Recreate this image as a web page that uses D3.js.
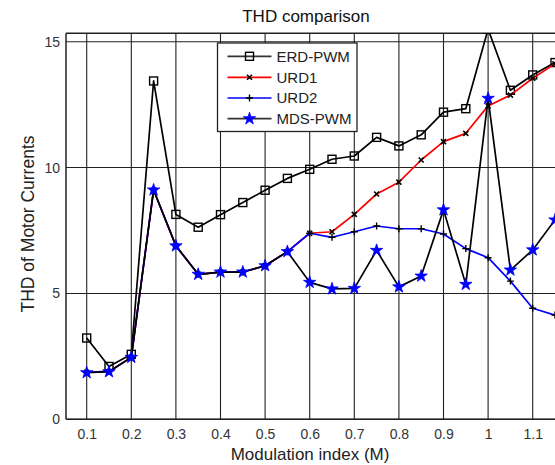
<!DOCTYPE html>
<html>
<head>
<meta charset="utf-8">
<script src="https://cdn.jsdelivr.net/npm/d3@7"></script>
<style>
  html, body { margin: 0; padding: 0; background: #fff; }
  svg { display: block; font-family: "Liberation Sans", Arial, sans-serif; }
</style>
</head>
<body>
<svg id="chart" width="555" height="465"></svg>
<script>
// ---- data ----
const modIndex = [0.1,0.15,0.2,0.25,0.3,0.35,0.4,0.45,0.5,0.55,0.6,0.65,0.7,0.75,0.8,0.85,0.9,0.95,1.0,1.05,1.1,1.15];
const erdPwm = [3.23,2.1,2.58,13.44,8.14,7.63,8.13,8.61,9.10,9.57,9.93,10.33,10.46,11.2,10.86,11.3,12.2,12.34,15.5,13.07,13.68,14.17];
const urd1   = [1.87,1.9,2.46,9.11,6.89,5.76,5.85,5.85,6.1,6.66,7.39,7.45,8.14,8.95,9.42,10.3,11.03,11.36,12.45,12.88,13.55,14.12];
const urd2   = [1.87,1.9,2.46,9.11,6.89,5.76,5.85,5.85,6.1,6.66,7.39,7.23,7.45,7.68,7.57,7.57,7.36,6.78,6.42,5.49,4.41,4.14];
const mdsPwm = [1.85,1.89,2.46,9.11,6.89,5.76,5.85,5.85,6.1,6.66,5.44,5.18,5.2,6.71,5.26,5.69,8.32,5.36,12.75,5.93,6.73,7.92];
const xTickValues = [0.1,0.2,0.3,0.4,0.5,0.6,0.7,0.8,0.9,1.0,1.1];
const xTickLabels = ["0.1","0.2","0.3","0.4","0.5","0.6","0.7","0.8","0.9","1","1.1"];
const yTickValues = [0,5,10,15];
const seriesNames = ["ERD-PWM","URD1","URD2","MDS-PWM"];

// ---- layout ----
const svg = d3.select("#chart");
const plotLeft = 66, plotTop = 33.3, plotBottom = 419.3, plotRight = 600;
const x = d3.scaleLinear().domain([0.1, 1.1]).range([86.7, 532.7]);
const y = d3.scaleLinear().domain([0, 15]).range([419.3, 41.7]);

svg.append("defs").append("clipPath").attr("id","clip")
  .append("rect").attr("x",plotLeft).attr("y",plotTop)
  .attr("width",plotRight-plotLeft).attr("height",plotBottom-plotTop);

const gridColor = "#222";
// grid
const grid = svg.append("g");
grid.selectAll(".vg").data(xTickValues).enter().append("line")
  .attr("x1",d=>x(d)).attr("x2",d=>x(d)).attr("y1",plotTop).attr("y2",plotBottom)
  .attr("stroke",gridColor).attr("stroke-width",1.1);
grid.selectAll(".hg").data(yTickValues).enter().append("line")
  .attr("x1",plotLeft).attr("x2",plotRight).attr("y1",d=>y(d)).attr("y2",d=>y(d))
  .attr("stroke",gridColor).attr("stroke-width",1.1);

// axes (labels via d3 axes)
const xAxis = d3.axisBottom(x).tickValues(xTickValues)
  .tickFormat((d,i)=>xTickLabels[i]).tickSize(0).tickPadding(10);
const gx = svg.append("g").attr("transform",`translate(0,${plotBottom})`).call(xAxis);
gx.select(".domain").remove();
gx.selectAll("text").attr("font-size",14).attr("fill","#333")
  .attr("font-family","'Liberation Sans', Arial, sans-serif");

const yAxis = d3.axisLeft(y).tickValues(yTickValues).tickSize(0).tickPadding(6);
const gy = svg.append("g").attr("transform",`translate(${plotLeft},0)`).call(yAxis);
gy.select(".domain").remove();
gy.selectAll("text").attr("font-size",14).attr("fill","#333")
  .attr("font-family","'Liberation Sans', Arial, sans-serif");

// border
svg.append("line").attr("x1",plotLeft).attr("x2",plotLeft).attr("y1",plotTop).attr("y2",plotBottom)
  .attr("stroke","#222").attr("stroke-width",1.5);
svg.append("line").attr("x1",plotLeft).attr("x2",plotRight).attr("y1",plotBottom).attr("y2",plotBottom)
  .attr("stroke","#222").attr("stroke-width",1.5);
svg.append("line").attr("x1",plotLeft).attr("x2",plotRight).attr("y1",plotTop).attr("y2",plotTop)
  .attr("stroke","#222").attr("stroke-width",1.5);

// series
const series = [
  {name:seriesNames[0], vals:erdPwm, line:"#000", marker:"square"},
  {name:seriesNames[1], vals:urd1,   line:"#ff0000", marker:"x"},
  {name:seriesNames[2], vals:urd2,   line:"#0000ff", marker:"plus"},
  {name:seriesNames[3], vals:mdsPwm, line:"#000", marker:"star"}
];

function drawMarker(g, type, cx, cy) {
  if (type === "square") {
    g.append("rect").attr("x",cx-4).attr("y",cy-4).attr("width",8).attr("height",8)
      .attr("fill","none").attr("stroke","#000").attr("stroke-width",1.4);
  } else if (type === "x") {
    g.append("path").attr("d",`M${cx-2.5},${cy-2.5}L${cx+2.5},${cy+2.5}M${cx-2.5},${cy+2.5}L${cx+2.5},${cy-2.5}`)
      .attr("stroke","#000").attr("stroke-width",1.6);
  } else if (type === "plus") {
    g.append("path").attr("d",`M${cx-3.5},${cy}L${cx+3.5},${cy}M${cx},${cy-3.5}L${cx},${cy+3.5}`)
      .attr("stroke","#000").attr("stroke-width",1.4);
  } else if (type === "star") {
    g.append("path").attr("d",d3.symbol().type(d3.symbolStar).size(48)())
      .attr("transform",`translate(${cx},${cy})`)
      .attr("fill","#0000ff").attr("stroke","#0000ff").attr("stroke-width",0.8);
  }
}

const plotG = svg.append("g").attr("clip-path","url(#clip)");
const lineGen = d3.line().x(d=>x(d[0])).y(d=>y(d[1]));
series.forEach(s => {
  const pts = modIndex.map((m,i)=>[m, s.vals[i]]);
  const g = plotG.append("g");
  g.append("path").datum(pts).attr("d",lineGen).attr("fill","none")
    .attr("stroke",s.line).attr("stroke-width",1.7).attr("stroke-linejoin","round");
  pts.forEach(p => drawMarker(g, s.marker, x(p[0]), y(p[1])));
});

// legend
const lg = svg.append("g");
lg.append("rect").attr("x",217.5).attr("y",43).attr("width",139.5).attr("height",88.5)
  .attr("fill","#fff").attr("stroke","#222").attr("stroke-width",1.3);
const legendYs = [56.3, 77.3, 98, 118.7];
series.forEach((s,i) => {
  const ly = legendYs[i];
  lg.append("line").attr("x1",227.5).attr("x2",271.5).attr("y1",ly).attr("y2",ly)
    .attr("stroke", s.line === "#000" ? "#333" : s.line).attr("stroke-width",1.7);
  drawMarker(lg, s.marker, 249.5, ly);
  lg.append("text").attr("x",276.5).attr("y",ly+5.3).attr("font-size",15).attr("fill","#222")
    .text(s.name);
});

// titles
svg.append("text").attr("x",306).attr("y",21.7).attr("text-anchor","middle")
  .attr("font-size",17).attr("fill","#111").text("THD comparison");
svg.append("text").attr("x",310).attr("y",460).attr("text-anchor","middle")
  .attr("font-size",17).attr("fill","#222").text("Modulation index (M)");
svg.append("text").attr("transform","translate(34,224) rotate(-90)").attr("text-anchor","middle")
  .attr("font-size",17.5).attr("fill","#222").text("THD of Motor Currents");
</script>
</body>
</html>
